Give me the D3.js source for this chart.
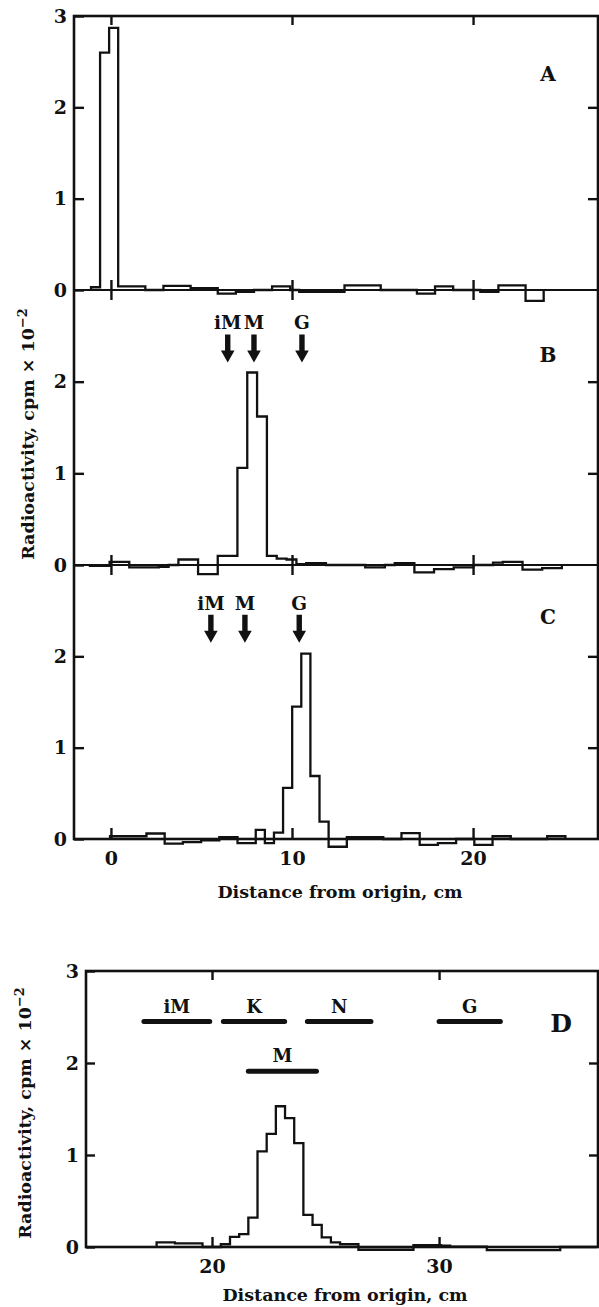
<!DOCTYPE html>
<html>
<head>
<meta charset="utf-8">
<script src="https://cdn.jsdelivr.net/npm/d3@7/dist/d3.min.js"></script>
<style>
  body { margin: 0; background: #fff; }
  svg { display: block; }
  text { font-family: 'DejaVu Serif', serif; font-weight: bold; fill: #111; }
</style>
</head>
<body>
<div id="chart"></div>
<script>
'use strict';

// gel slices, cpm x 10^-2 ; start / width in cm from origin
var laneAStart = -1.1, laneAWidth = 0.5;
var laneAValues = [0.03, 2.6, 2.87, 0.04, 0.04, 0.04, 0, 0, 0.045, 0.045,
    0.045, 0.02, 0.02, 0.02, -0.04, -0.04, -0.02, -0.02, 0, 0,
    0.04, 0.04, 0, -0.02, -0.02, -0.02, -0.02, -0.02, 0.05, 0.05,
    0.05, 0.05, 0, 0, 0, 0, -0.04, -0.04, 0.04, 0.04,
    0, 0, 0, -0.02, -0.02, 0.05, 0.05, 0.05, -0.12, -0.12];

var laneBStart = -1.16, laneBWidth = 0.543;
var laneBValues = [-0.01, -0.01, 0.035, 0.035, -0.025, -0.025, -0.025, -0.02, 0, 0.06,
    0.06, -0.1, -0.1, 0.1, 0.1, 1.06, 2.1, 1.62, 0.1, 0.07,
    0.06, 0.01, 0.02, 0.02, 0, 0, 0, 0, -0.025, -0.025,
    0, 0.02, 0.02, -0.08, -0.08, -0.045, -0.045, -0.025, -0.025, 0,
    0, 0.025, 0.035, 0.035, -0.05, -0.05, -0.035, -0.035];

var laneCStart = -0.05, laneCWidth = 0.503;
var laneCValues = [0.03, 0.03, 0.03, 0.03, 0.06, 0.06, -0.05, -0.05, -0.035, -0.035,
    -0.015, -0.015, 0.02, 0.02, -0.045, -0.045, 0.1, -0.045, 0.07, 0.56,
    1.45, 2.03, 0.69, 0.19, -0.085, -0.085, 0.02, 0.02, 0.02, 0.02,
    0, 0, 0.065, 0.065, -0.065, -0.065, -0.045, -0.045, 0, 0,
    -0.065, -0.065, 0.03, 0.03, 0, 0, 0, 0, 0.03, 0.03];

var laneDStart = 17.56, laneDWidth = 0.404;
var laneDValues = [0.05, 0.05, 0.04, 0.04, 0.04, 0, 0, 0.03, 0.11, 0.14,
    0.32, 1.04, 1.23, 1.53, 1.4, 1.13, 0.35, 0.24, 0.105, 0.05,
    0.03, 0.03, -0.03, -0.03, -0.03, -0.03, -0.03, -0.03, 0.02, 0.02,
    0.02, 0.015, 0.005, 0.005, 0.005, 0.005, -0.035, -0.035, -0.035, -0.035,
    -0.035, -0.035, -0.035, -0.035, 0, 0, 0, 0];

// marker arrows (cm)
var markerLabels = ['iM', 'M', 'G'];
var laneBMarkers = [6.45, 7.9, 10.55];
var laneCMarkers = [5.52, 7.4, 10.4];

// standards run on panel D (cm)
var standardLabels = ['iM', 'K', 'M', 'N', 'G'];
var standardFrom = [17.0, 20.5, 21.6, 24.2, 30.0];
var standardTo = [19.9, 23.2, 24.6, 27.0, 32.7];
var standardRow = [0, 0, 1, 0, 0];

var topXTicks = [0, 10, 20];
var bottomXTicks = [20, 30];
var yTicks = [0, 1, 2, 3];
var innerYTicks = [1, 2];

var W = 599, H = 1307;
var ink = '#111';
var fmt = d3.format('d');

var svg = d3.select('#chart').append('svg')
    .attr('width', W)
    .attr('height', H);

var x = d3.scaleLinear().domain([-2.04, 26.9]).range([74, 598]);
var yA = d3.scaleLinear().domain([0, 3]).range([290, 16]);
var yB = d3.scaleLinear().domain([0, 3]).range([565, 290]);
var yC = d3.scaleLinear().domain([0, 3]).range([839, 565]);

var xD = d3.scaleLinear().domain([14.45, 37.0]).range([86, 598]);
var yD = d3.scaleLinear().domain([0, 3]).range([1247, 971]);

function steps(start, width, values) {
    var pts = [[start, 0]];
    values.forEach(function(v, i) {
        pts.push([start + i * width, v]);
        pts.push([start + (i + 1) * width, v]);
    });
    pts.push([start + values.length * width, 0]);
    return pts;
}

function styleAxis(g, size) {
    g.select('.domain').remove();
    g.attr('font-family', null).attr('font-size', size);
    g.selectAll('line').attr('stroke', ink).attr('stroke-width', 2.4);
    g.selectAll('text').attr('fill', ink);
}

function lane(xs, y, start, width, values) {
    var line = d3.line()
        .x(function(d) { return xs(d[0]); })
        .y(function(d) { return y(d[1]); });
    svg.append('path')
        .datum(steps(start, width, values))
        .attr('d', line)
        .attr('fill', 'none')
        .attr('stroke', ink)
        .attr('stroke-width', 2.3)
        .attr('stroke-linejoin', 'miter');
}

function arrow(px, tipY) {
    var p = d3.path();
    p.moveTo(px - 2.7, tipY - 28);
    p.lineTo(px + 2.7, tipY - 28);
    p.lineTo(px + 2.7, tipY - 12);
    p.lineTo(px + 6.8, tipY - 12);
    p.lineTo(px, tipY);
    p.lineTo(px - 6.8, tipY - 12);
    p.lineTo(px - 2.7, tipY - 12);
    p.closePath();
    svg.append('path').attr('d', p.toString()).attr('fill', ink);
}

function markers(positions, tipY) {
    positions.forEach(function(m, i) {
        var px = x(m);
        arrow(px, tipY);
        svg.append('text')
            .attr('x', px)
            .attr('y', tipY - 33)
            .attr('text-anchor', 'middle')
            .attr('font-size', 18.5)
            .text(markerLabels[i]);
    });
}

function yLabel(cx, cy) {
    var t = svg.append('text')
        .attr('transform', 'translate(' + cx + ',' + cy + ') rotate(-90)')
        .attr('text-anchor', 'middle')
        .attr('font-size', 17.5);
    t.append('tspan').text('Radioactivity, cpm \u00d7 10');
    t.append('tspan').attr('dy', '-0.55em').attr('font-size', 13).text('\u22122');
}

// ---- panels A-C ----
lane(x, yA, laneAStart, laneAWidth, laneAValues);
lane(x, yB, laneBStart, laneBWidth, laneBValues);
lane(x, yC, laneCStart, laneCWidth, laneCValues);

svg.append('rect')
    .attr('x', x.range()[0]).attr('y', yA.range()[1])
    .attr('width', x.range()[1] - x.range()[0])
    .attr('height', yC.range()[0] - yA.range()[1])
    .attr('fill', 'none').attr('stroke', ink).attr('stroke-width', 2.6);

[yA(0), yB(0)].forEach(function(py) {
    svg.append('line')
        .attr('x1', x.range()[0]).attr('x2', x.range()[1])
        .attr('y1', py).attr('y2', py)
        .attr('stroke', ink).attr('stroke-width', 2);
    svg.append('g')
        .attr('transform', 'translate(0,' + (py - 10) + ')')
        .call(d3.axisBottom(x).tickValues(topXTicks).tickSize(20).tickFormat(''))
        .call(styleAxis, 19);
});

svg.append('g')
    .attr('transform', 'translate(0,' + yA(3) + ')')
    .call(d3.axisTop(x).tickValues(topXTicks).tickSizeInner(-9).tickSizeOuter(0).tickFormat(''))
    .call(styleAxis, 19);

svg.append('g')
    .attr('transform', 'translate(0,' + yC(0) + ')')
    .call(d3.axisBottom(x).tickValues(topXTicks).tickSizeInner(-11).tickSizeOuter(0).tickPadding(13).tickFormat(fmt))
    .call(styleAxis, 19);

[[yA, yTicks], [yB, [0, 1, 2]], [yC, [0, 1, 2]]].forEach(function(p) {
    svg.append('g')
        .attr('transform', 'translate(' + x.range()[0] + ',0)')
        .call(d3.axisLeft(p[0]).tickValues(p[1]).tickSizeInner(-10).tickSizeOuter(0).tickPadding(7).tickFormat(fmt))
        .call(styleAxis, 19);
    svg.append('g')
        .attr('transform', 'translate(' + x.range()[1] + ',0)')
        .call(d3.axisRight(p[0]).tickValues(innerYTicks).tickSizeInner(-10).tickSizeOuter(0).tickFormat(''))
        .call(styleAxis, 19);
});

markers(laneBMarkers, yB(2.21));
markers(laneCMarkers, yC(2.15));

[['A', yA(2.29)], ['B', yB(2.22)], ['C', yC(2.35)]].forEach(function(l) {
    svg.append('text')
        .attr('x', 548).attr('y', l[1])
        .attr('text-anchor', 'middle')
        .attr('font-size', 20)
        .text(l[0]);
});

yLabel(34, 434);

svg.append('text')
    .attr('x', 340).attr('y', 898)
    .attr('text-anchor', 'middle')
    .attr('font-size', 17.5)
    .text('Distance from origin, cm');

// ---- panel D ----
lane(xD, yD, laneDStart, laneDWidth, laneDValues);

svg.append('rect')
    .attr('x', xD.range()[0]).attr('y', yD.range()[1])
    .attr('width', xD.range()[1] - xD.range()[0])
    .attr('height', yD.range()[0] - yD.range()[1])
    .attr('fill', 'none').attr('stroke', ink).attr('stroke-width', 2.6);

svg.append('g')
    .attr('transform', 'translate(0,' + yD(3) + ')')
    .call(d3.axisTop(xD).tickValues(bottomXTicks).tickSizeInner(-9).tickSizeOuter(0).tickFormat(''))
    .call(styleAxis, 19);

svg.append('g')
    .attr('transform', 'translate(0,' + yD(0) + ')')
    .call(d3.axisBottom(xD).tickValues(bottomXTicks).tickSizeInner(-10).tickSizeOuter(0).tickPadding(13).tickFormat(fmt))
    .call(styleAxis, 19);

svg.append('g')
    .attr('transform', 'translate(' + xD.range()[0] + ',0)')
    .call(d3.axisLeft(yD).tickValues(yTicks).tickSizeInner(-9).tickSizeOuter(0).tickPadding(7).tickFormat(fmt))
    .call(styleAxis, 19);

svg.append('g')
    .attr('transform', 'translate(' + xD.range()[1] + ',0)')
    .call(d3.axisRight(yD).tickValues(innerYTicks).tickSizeInner(-9).tickSizeOuter(0).tickFormat(''))
    .call(styleAxis, 19);

var rowLevel = [2.45, 1.91];
standardLabels.forEach(function(name, i) {
    var py = yD(rowLevel[standardRow[i]]);
    svg.append('line')
        .attr('x1', xD(standardFrom[i])).attr('x2', xD(standardTo[i]))
        .attr('y1', py).attr('y2', py)
        .attr('stroke', ink).attr('stroke-width', 5)
        .attr('stroke-linecap', 'round');
    svg.append('text')
        .attr('x', xD((standardFrom[i] + standardTo[i]) / 2))
        .attr('y', py - 9)
        .attr('text-anchor', 'middle')
        .attr('font-size', 18)
        .text(name);
});

svg.append('text')
    .attr('x', 561).attr('y', 1032)
    .attr('text-anchor', 'middle')
    .attr('font-size', 25)
    .text('D');

yLabel(31, 1113);

svg.append('text')
    .attr('x', 345).attr('y', 1301)
    .attr('text-anchor', 'middle')
    .attr('font-size', 17.5)
    .text('Distance from origin, cm');
</script>
</body>
</html>
